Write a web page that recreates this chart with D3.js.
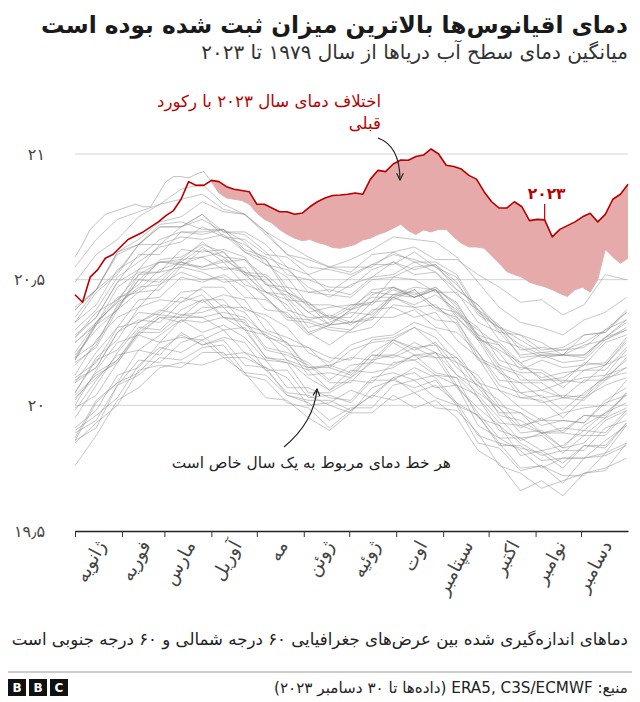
<!DOCTYPE html>
<html>
<head>
<meta charset="utf-8">
<script src="https://cdnjs.cloudflare.com/ajax/libs/d3/7.8.5/d3.min.js"></script>
<style>
  body { margin: 0; background: #fff; }
  text { font-family: "DejaVu Sans", sans-serif; }
</style>
</head>
<body>
<div id="chart"></div>
<script>

// ---- data ----
// day of year for the past years (every 14 days)
var pastDays = [0, 14, 28, 42, 56, 70, 84, 98, 112, 126, 140, 154, 168, 182, 196, 210, 224, 238, 252, 266, 280, 294, 308, 322, 336, 350, 364];

// sea surface temperature, 60S-60N, degC
var sst1979 = [19.86, 19.91, 20.08, 20.12, 20.19, 20.18, 20.23, 20.24, 20.13, 20.12, 20.04, 20.01, 19.94, 19.99, 19.99, 20.08, 20.10, 20.03, 20.00, 19.85, 19.83, 19.74, 19.76, 19.72, 19.72, 19.81, 19.85];
var sst1980 = [19.87, 20.02, 20.09, 20.22, 20.20, 20.29, 20.24, 20.27, 20.25, 20.14, 20.14, 20.03, 20.04, 20.01, 20.10, 20.10, 20.15, 20.11, 20.01, 19.96, 19.84, 19.84, 19.78, 19.79, 19.79, 19.81, 19.92];
var sst1981 = [19.90, 19.96, 20.03, 20.16, 20.23, 20.21, 20.26, 20.19, 20.19, 20.15, 20.04, 20.02, 20.02, 19.98, 20.04, 20.11, 20.05, 20.08, 20.01, 19.88, 19.85, 19.75, 19.76, 19.69, 19.79, 19.80, 19.84];
var sst1982 = [19.86, 20.01, 20.09, 20.13, 20.22, 20.28, 20.24, 20.26, 20.16, 20.15, 20.11, 20.00, 20.01, 20.06, 20.03, 20.11, 20.13, 20.07, 20.08, 19.97, 19.87, 19.87, 19.82, 19.84, 19.90, 19.89, 19.98];
var sst1983 = [20.09, 20.15, 20.29, 20.34, 20.33, 20.41, 20.44, 20.35, 20.33, 20.22, 20.20, 20.16, 20.09, 20.09, 20.18, 20.20, 20.18, 20.21, 20.08, 20.04, 19.95, 19.86, 19.89, 19.83, 19.85, 19.94, 19.98];
var sst1984 = [19.85, 19.93, 20.00, 20.14, 20.16, 20.15, 20.21, 20.21, 20.12, 20.10, 20.01, 19.99, 19.91, 19.98, 20.04, 20.02, 20.05, 19.99, 19.98, 19.89, 19.76, 19.73, 19.67, 19.70, 19.73, 19.74, 19.85];
var sst1985 = [19.76, 19.88, 20.02, 20.07, 20.15, 20.17, 20.16, 20.19, 20.13, 20.03, 20.02, 19.95, 19.90, 19.97, 19.97, 20.04, 19.99, 20.02, 19.95, 19.82, 19.77, 19.66, 19.70, 19.64, 19.73, 19.75, 19.79];
var sst1986 = [19.89, 19.94, 20.08, 20.18, 20.17, 20.25, 20.28, 20.20, 20.21, 20.14, 20.05, 20.04, 20.00, 19.97, 20.07, 20.10, 20.07, 20.10, 20.00, 19.96, 19.85, 19.83, 19.81, 19.75, 19.84, 19.84, 19.93];
var sst1987 = [20.05, 20.18, 20.22, 20.33, 20.38, 20.36, 20.37, 20.40, 20.37, 20.27, 20.25, 20.14, 20.16, 20.19, 20.18, 20.26, 20.23, 20.19, 20.19, 20.07, 19.97, 19.97, 19.92, 19.94, 19.93, 20.02, 20.07];
var sst1988 = [20.04, 20.12, 20.17, 20.29, 20.29, 20.36, 20.35, 20.30, 20.31, 20.19, 20.18, 20.11, 20.06, 20.14, 20.13, 20.15, 20.20, 20.19, 20.07, 19.99, 19.92, 19.80, 19.82, 19.77, 19.84, 19.83, 19.93];
var sst1989 = [19.91, 19.98, 20.12, 20.15, 20.25, 20.27, 20.26, 20.30, 20.21, 20.18, 20.07, 20.07, 20.03, 20.02, 20.11, 20.13, 20.10, 20.12, 20.08, 19.92, 19.87, 19.82, 19.75, 19.79, 19.79, 19.86, 19.92];
var sst1990 = [19.95, 20.08, 20.21, 20.31, 20.30, 20.38, 20.42, 20.35, 20.34, 20.23, 20.21, 20.17, 20.10, 20.16, 20.17, 20.25, 20.20, 20.21, 20.17, 20.03, 19.93, 19.92, 19.89, 19.89, 19.88, 19.95, 19.99];
var sst1991 = [20.02, 20.13, 20.18, 20.29, 20.35, 20.33, 20.39, 20.39, 20.30, 20.28, 20.23, 20.12, 20.13, 20.11, 20.20, 20.20, 20.25, 20.21, 20.12, 20.08, 19.99, 19.91, 19.95, 19.89, 19.96, 19.96, 20.05];
var sst1992 = [19.98, 20.10, 20.20, 20.22, 20.28, 20.34, 20.29, 20.32, 20.27, 20.18, 20.17, 20.05, 20.05, 20.10, 20.09, 20.17, 20.18, 20.12, 20.11, 19.95, 19.92, 19.85, 19.80, 19.82, 19.82, 19.91, 19.94];
var sst1993 = [19.99, 20.04, 20.17, 20.28, 20.25, 20.34, 20.33, 20.35, 20.30, 20.19, 20.17, 20.14, 20.06, 20.11, 20.17, 20.16, 20.20, 20.13, 20.11, 20.03, 19.90, 19.87, 19.88, 19.81, 19.88, 19.88, 19.97];
var sst1994 = [20.00, 20.14, 20.25, 20.28, 20.35, 20.35, 20.42, 20.42, 20.32, 20.29, 20.25, 20.15, 20.16, 20.13, 20.21, 20.26, 20.22, 20.25, 20.15, 20.08, 20.02, 19.92, 19.94, 19.94, 19.93, 20.01, 20.04];
var sst1995 = [20.10, 20.15, 20.29, 20.37, 20.36, 20.43, 20.41, 20.44, 20.42, 20.30, 20.27, 20.23, 20.15, 20.22, 20.25, 20.26, 20.31, 20.27, 20.17, 20.12, 20.00, 19.97, 19.89, 19.90, 19.96, 19.95, 20.05];
var sst1996 = [20.03, 20.11, 20.18, 20.30, 20.36, 20.35, 20.35, 20.37, 20.35, 20.28, 20.18, 20.15, 20.15, 20.12, 20.20, 20.19, 20.23, 20.24, 20.12, 20.05, 19.99, 19.89, 19.90, 19.83, 19.92, 19.97, 20.01];
var sst1997 = [20.12, 20.26, 20.35, 20.39, 20.48, 20.53, 20.50, 20.51, 20.43, 20.42, 20.36, 20.28, 20.32, 20.33, 20.35, 20.44, 20.43, 20.47, 20.40, 20.28, 20.25, 20.17, 20.20, 20.17, 20.18, 20.26, 20.31];
var sst1998 = [20.38, 20.46, 20.61, 20.64, 20.71, 20.71, 20.76, 20.67, 20.64, 20.58, 20.45, 20.40, 20.32, 20.38, 20.41, 20.42, 20.46, 20.39, 20.34, 20.19, 20.15, 20.05, 20.06, 20.03, 20.04, 20.12, 20.15];
var sst1999 = [20.09, 20.21, 20.31, 20.33, 20.37, 20.45, 20.46, 20.39, 20.39, 20.34, 20.24, 20.23, 20.19, 20.18, 20.26, 20.27, 20.31, 20.24, 20.19, 20.10, 19.96, 19.94, 19.89, 19.91, 19.90, 19.97, 20.04];
var sst2000 = [20.05, 20.19, 20.26, 20.39, 20.42, 20.41, 20.47, 20.47, 20.38, 20.36, 20.31, 20.21, 20.17, 20.24, 20.27, 20.28, 20.33, 20.30, 20.21, 20.09, 20.06, 19.99, 19.94, 19.97, 19.99, 20.00, 20.10];
var sst2001 = [20.17, 20.23, 20.38, 20.45, 20.46, 20.55, 20.53, 20.49, 20.50, 20.43, 20.34, 20.33, 20.30, 20.29, 20.31, 20.40, 20.39, 20.34, 20.33, 20.21, 20.10, 20.09, 20.03, 20.04, 20.03, 20.11, 20.18];
var sst2002 = [20.19, 20.25, 20.39, 20.50, 20.49, 20.58, 20.59, 20.54, 20.55, 20.45, 20.42, 20.31, 20.33, 20.37, 20.36, 20.43, 20.40, 20.44, 20.38, 20.26, 20.24, 20.16, 20.11, 20.13, 20.14, 20.16, 20.26];
var sst2003 = [20.27, 20.37, 20.42, 20.52, 20.57, 20.56, 20.59, 20.61, 20.52, 20.45, 20.44, 20.37, 20.32, 20.38, 20.43, 20.43, 20.46, 20.39, 20.37, 20.28, 20.16, 20.13, 20.13, 20.07, 20.14, 20.14, 20.23];
var sst2004 = [20.18, 20.33, 20.41, 20.46, 20.54, 20.57, 20.55, 20.58, 20.53, 20.49, 20.38, 20.35, 20.35, 20.32, 20.37, 20.44, 20.45, 20.38, 20.35, 20.27, 20.15, 20.12, 20.06, 20.09, 20.11, 20.12, 20.22];
var sst2005 = [20.25, 20.32, 20.47, 20.53, 20.53, 20.62, 20.61, 20.62, 20.59, 20.48, 20.45, 20.37, 20.39, 20.40, 20.40, 20.47, 20.43, 20.46, 20.41, 20.27, 20.21, 20.10, 20.10, 20.10, 20.09, 20.16, 20.20];
var sst2006 = [20.20, 20.30, 20.38, 20.52, 20.53, 20.55, 20.62, 20.59, 20.52, 20.51, 20.43, 20.34, 20.36, 20.33, 20.41, 20.46, 20.43, 20.46, 20.36, 20.30, 20.24, 20.14, 20.18, 20.15, 20.16, 20.25, 20.28];
var sst2007 = [20.21, 20.33, 20.43, 20.45, 20.51, 20.57, 20.54, 20.55, 20.53, 20.43, 20.35, 20.34, 20.31, 20.30, 20.38, 20.39, 20.35, 20.37, 20.26, 20.19, 20.06, 20.03, 20.02, 19.95, 20.03, 20.08, 20.11];
var sst2008 = [20.11, 20.17, 20.31, 20.42, 20.43, 20.51, 20.49, 20.52, 20.47, 20.38, 20.37, 20.29, 20.24, 20.30, 20.35, 20.35, 20.38, 20.31, 20.29, 20.21, 20.08, 20.05, 20.01, 20.03, 20.02, 20.10, 20.15];
var sst2009 = [20.19, 20.32, 20.38, 20.50, 20.57, 20.57, 20.63, 20.57, 20.58, 20.51, 20.42, 20.41, 20.35, 20.40, 20.41, 20.51, 20.50, 20.45, 20.45, 20.33, 20.29, 20.20, 20.21, 20.20, 20.19, 20.27, 20.34];
var sst2010 = [20.38, 20.46, 20.60, 20.64, 20.72, 20.73, 20.70, 20.70, 20.61, 20.56, 20.51, 20.40, 20.40, 20.38, 20.46, 20.47, 20.43, 20.46, 20.35, 20.26, 20.13, 20.09, 20.09, 20.03, 20.10, 20.10, 20.19];
var sst2011 = [20.16, 20.24, 20.40, 20.47, 20.48, 20.56, 20.55, 20.57, 20.48, 20.45, 20.40, 20.29, 20.32, 20.33, 20.34, 20.43, 20.39, 20.40, 20.32, 20.18, 20.14, 20.03, 20.04, 19.98, 20.05, 20.11, 20.13];
var sst2012 = [20.18, 20.32, 20.42, 20.48, 20.58, 20.59, 20.64, 20.61, 20.53, 20.52, 20.45, 20.41, 20.34, 20.39, 20.45, 20.44, 20.47, 20.46, 20.37, 20.31, 20.18, 20.15, 20.14, 20.09, 20.17, 20.16, 20.25];
var sst2013 = [20.25, 20.33, 20.41, 20.54, 20.57, 20.58, 20.65, 20.59, 20.58, 20.48, 20.47, 20.39, 20.35, 20.35, 20.44, 20.47, 20.44, 20.47, 20.39, 20.27, 20.22, 20.17, 20.10, 20.11, 20.16, 20.17, 20.27];
var sst2014 = [20.27, 20.35, 20.49, 20.54, 20.64, 20.67, 20.66, 20.68, 20.61, 20.58, 20.47, 20.45, 20.44, 20.43, 20.50, 20.51, 20.55, 20.56, 20.46, 20.40, 20.31, 20.28, 20.22, 20.23, 20.28, 20.29, 20.37];
var sst2015 = [20.30, 20.38, 20.51, 20.57, 20.63, 20.65, 20.71, 20.67, 20.66, 20.60, 20.59, 20.52, 20.55, 20.53, 20.60, 20.61, 20.63, 20.58, 20.58, 20.52, 20.47, 20.41, 20.42, 20.36, 20.40, 20.52, 20.50];
var sst2016 = [20.55, 20.66, 20.74, 20.77, 20.80, 20.86, 20.88, 20.80, 20.76, 20.68, 20.60, 20.55, 20.54, 20.52, 20.56, 20.60, 20.58, 20.55, 20.48, 20.38, 20.30, 20.24, 20.20, 20.20, 20.24, 20.26, 20.30];
var sst2017 = [20.33, 20.45, 20.52, 20.64, 20.71, 20.71, 20.76, 20.69, 20.69, 20.64, 20.55, 20.52, 20.45, 20.51, 20.56, 20.56, 20.61, 20.55, 20.51, 20.37, 20.31, 20.19, 20.20, 20.20, 20.20, 20.27, 20.30];
var sst2018 = [20.28, 20.35, 20.49, 20.60, 20.60, 20.69, 20.69, 20.70, 20.62, 20.59, 20.55, 20.45, 20.46, 20.44, 20.51, 20.57, 20.52, 20.53, 20.46, 20.40, 20.29, 20.28, 20.25, 20.20, 20.28, 20.29, 20.38];
var sst2019 = [20.39, 20.46, 20.61, 20.66, 20.73, 20.75, 20.81, 20.77, 20.76, 20.69, 20.60, 20.58, 20.55, 20.58, 20.62, 20.67, 20.66, 20.65, 20.59, 20.49, 20.39, 20.33, 20.31, 20.28, 20.34, 20.37, 20.43];
var sst2020 = [20.49, 20.60, 20.66, 20.75, 20.80, 20.82, 20.84, 20.78, 20.76, 20.69, 20.64, 20.59, 20.55, 20.55, 20.55, 20.61, 20.57, 20.57, 20.52, 20.38, 20.32, 20.22, 20.23, 20.22, 20.23, 20.30, 20.34];
var sst2021 = [20.33, 20.40, 20.54, 20.59, 20.66, 20.69, 20.68, 20.70, 20.65, 20.56, 20.54, 20.47, 20.43, 20.48, 20.51, 20.52, 20.57, 20.53, 20.44, 20.38, 20.26, 20.23, 20.19, 20.20, 20.20, 20.27, 20.33];
var sst2022 = [20.35, 20.46, 20.53, 20.64, 20.64, 20.71, 20.74, 20.69, 20.68, 20.61, 20.52, 20.50, 20.47, 20.47, 20.54, 20.57, 20.54, 20.56, 20.49, 20.36, 20.31, 20.26, 20.21, 20.22, 20.25, 20.30, 20.37];

var pastYears = [sst1979, sst1980, sst1981, sst1982, sst1983, sst1984, sst1985, sst1986, sst1987, sst1988,
  sst1989, sst1990, sst1991, sst1992, sst1993, sst1994, sst1995, sst1996, sst1997, sst1998,
  sst1999, sst2000, sst2001, sst2002, sst2003, sst2004, sst2005, sst2006, sst2007, sst2008,
  sst2009, sst2010, sst2011, sst2012, sst2013, sst2014, sst2015, sst2016, sst2017, sst2018,
  sst2019, sst2020, sst2021, sst2022];

// day of year for 2023 and the previous record (every 5 days)
var recentDays = [0, 5, 10, 15, 20, 25, 30, 35, 40, 45, 50, 55, 60, 65, 70, 75, 80, 85, 90, 95,
  100, 105, 110, 115, 120, 125, 130, 135, 140, 145, 150, 155, 160, 165, 170, 175, 180, 185, 190, 195,
  200, 205, 210, 215, 220, 225, 230, 235, 240, 245, 250, 255, 260, 265, 270, 275, 280, 285, 290, 295,
  300, 305, 310, 315, 320, 325, 330, 335, 340, 345, 350, 355, 360, 365];

var sst2023 = [20.44, 20.41, 20.51, 20.54, 20.585, 20.60, 20.63, 20.66, 20.675, 20.69,
  20.71, 20.73, 20.755, 20.775, 20.82, 20.89, 20.875, 20.875, 20.895, 20.89,
  20.87, 20.86, 20.855, 20.85, 20.80, 20.80, 20.785, 20.77, 20.77, 20.76,
  20.765, 20.79, 20.81, 20.825, 20.835, 20.837, 20.84, 20.845, 20.84, 20.90,
  20.935, 20.93, 20.96, 20.976, 20.975, 20.99, 20.996, 21.02, 21.0, 20.955,
  20.95, 20.94, 20.915, 20.90, 20.85, 20.81, 20.785, 20.785, 20.81, 20.79,
  20.735, 20.74, 20.738, 20.67, 20.70, 20.715, 20.73, 20.75, 20.764, 20.73,
  20.76, 20.82, 20.84, 20.88];

// highest value of 1979-2022 for each day
var previousRecord = [20.59, 20.64, 20.70, 20.73, 20.76, 20.77, 20.78, 20.79, 20.80, 20.79,
  20.79, 20.84, 20.89, 20.91, 20.91, 20.905, 20.92, 20.93, 20.89, 20.845,
  20.825, 20.82, 20.815, 20.80, 20.765, 20.74, 20.725, 20.70, 20.68, 20.665,
  20.655, 20.66, 20.648, 20.64, 20.628, 20.625, 20.632, 20.64, 20.658, 20.665,
  20.68, 20.69, 20.705, 20.72, 20.695, 20.68, 20.698, 20.69, 20.70, 20.70,
  20.67, 20.645, 20.63, 20.63, 20.625, 20.595, 20.565, 20.532, 20.52, 20.51,
  20.49, 20.48, 20.472, 20.46, 20.445, 20.433, 20.46, 20.47, 20.45, 20.50,
  20.62, 20.59, 20.565, 20.585];

var monthStarts = [0, 31, 59, 90, 120, 151, 181, 212, 243, 273, 304, 334];
var monthNames = ["ژانویه", "فوریه", "مارس", "آوریل", "مه", "ژوئن", "ژوئیه", "اوت", "سپتامبر", "اکتبر", "نوامبر", "دسامبر"];

var yTicks = [19.5, 20, 20.5, 21];
var yTickLabels = ["۱۹٫۵", "۲۰", "۲۰٫۵", "۲۱"];

// ---- svg ----
var svgWidth = 640;
var svgHeight = 702;

var margin = { top: 154, right: 12, bottom: 171, left: 75 };

var chartWidth = svgWidth - margin.left - margin.right;
var chartHeight = svgHeight - margin.top - margin.bottom;

var red = "#b80000";

var svg = d3.select("#chart").append("svg")
  .attr("width", svgWidth)
  .attr("height", svgHeight);

var defs = svg.append("defs");
defs.append("marker")
  .attr("id", "arrowHead")
  .attr("viewBox", "0 0 10 10")
  .attr("refX", 9)
  .attr("refY", 5)
  .attr("markerWidth", 7)
  .attr("markerHeight", 7)
  .attr("orient", "auto")
  .append("path")
  .attr("d", "M1,1 L9,5 L1,9")
  .attr("fill", "none")
  .attr("stroke", "#222")
  .attr("stroke-width", 1.4);

// title block
svg.append("text")
  .attr("x", 628).attr("y", 33)
  .attr("direction", "rtl").attr("text-anchor", "start")
  .attr("font-size", "23.3px").attr("font-weight", "bold")
  .attr("fill", "#1a1a1a")
  .text("دمای اقیانوس‌ها بالاترین میزان ثبت شده بوده است");

svg.append("text")
  .attr("x", 628).attr("y", 59)
  .attr("direction", "rtl").attr("text-anchor", "start")
  .attr("font-size", "20px")
  .attr("fill", "#333")
  .text("میانگین دمای سطح آب دریاها از سال ۱۹۷۹ تا ۲۰۲۳");

var chartGroup = svg.append("g")
  .attr("transform", `translate(${margin.left}, ${margin.top})`);

// scales
var xScale = d3.scaleLinear().domain([0, 365]).range([0, chartWidth]);
var yScale = d3.scaleLinear().domain([19.5, 21]).range([chartHeight, 0]);

// gridlines
chartGroup.selectAll(".grid")
  .data(yTicks.filter(d => d > 19.5))
  .enter()
  .append("line")
  .attr("x1", 0).attr("x2", chartWidth)
  .attr("y1", d => yScale(d)).attr("y2", d => yScale(d))
  .attr("stroke", "#d4d4d4")
  .attr("stroke-width", 1);

// y labels
svg.selectAll(".yLabel")
  .data(yTicks)
  .enter()
  .append("text")
  .attr("x", 45)
  .attr("y", d => margin.top + yScale(d))
  .attr("dy", "0.35em")
  .attr("text-anchor", "end")
  .attr("font-size", "16px")
  .attr("fill", "#444")
  .text((d, i) => yTickLabels[i]);

// one grey line per past year
var pastLine = d3.line()
  .x((d, i) => xScale(pastDays[i]))
  .y(d => yScale(d));

chartGroup.selectAll(".pastYear")
  .data(pastYears)
  .enter()
  .append("path")
  .attr("d", pastLine)
  .attr("fill", "none")
  .attr("stroke", "#8a8a8a")
  .attr("stroke-opacity", 0.55)
  .attr("stroke-width", 0.9);

var recentLine = d3.line()
  .x((d, i) => xScale(recentDays[i]))
  .y(d => yScale(d));

// the upper edge of the grey bundle
chartGroup.append("path")
  .attr("d", recentLine(previousRecord))
  .attr("fill", "none")
  .attr("stroke", "#8a8a8a")
  .attr("stroke-opacity", 0.6)
  .attr("stroke-width", 0.9);

// gap between 2023 and the previous record
var gapArea = d3.area()
  .x((d, i) => xScale(recentDays[i]))
  .y0((d, i) => yScale(Math.min(previousRecord[i], d)))
  .y1(d => yScale(d));

chartGroup.append("path")
  .attr("d", gapArea(sst2023))
  .attr("fill", "#e7aaaa");

// 2023
chartGroup.append("path")
  .attr("d", recentLine(sst2023))
  .attr("fill", "none")
  .attr("stroke", red)
  .attr("stroke-width", 1.6)
  .attr("stroke-linejoin", "round");

// x axis
var xAxis = d3.axisBottom(xScale)
  .tickValues(monthStarts)
  .tickSize(6)
  .tickSizeOuter(0)
  .tickFormat("");

var xAxisGroup = chartGroup.append("g")
  .attr("transform", `translate(0, ${chartHeight})`)
  .call(xAxis);

xAxisGroup.select(".domain").attr("stroke", "#222").attr("stroke-width", 1.6);
xAxisGroup.selectAll(".tick line").attr("stroke", "#333");

chartGroup.selectAll(".monthLabel")
  .data(monthNames)
  .enter()
  .append("text")
  .attr("transform", function(d, i) {
    var end = i < 11 ? monthStarts[i + 1] : 365;
    var mid = (monthStarts[i] + end) / 2;
    return `translate(${xScale(mid) + 8}, ${chartHeight + 14}) rotate(-62)`;
  })
  .attr("text-anchor", "end")
  .attr("font-size", "18.5px")
  .attr("fill", "#444")
  .text(d => d);

// label for 2023
var labelIndex = recentDays.indexOf(310);
chartGroup.append("line")
  .attr("x1", xScale(310)).attr("x2", xScale(310))
  .attr("y1", 50).attr("y2", yScale(sst2023[labelIndex]))
  .attr("stroke", red)
  .attr("stroke-width", 1.2);

chartGroup.append("text")
  .attr("x", xScale(310) + 2).attr("y", 45)
  .attr("text-anchor", "middle")
  .attr("font-size", "15.5px").attr("font-weight", "bold")
  .attr("fill", red)
  .text("۲۰۲۳");

// annotations
svg.append("text")
  .attr("x", 381).attr("y", 107)
  .attr("direction", "rtl").attr("text-anchor", "start")
  .attr("font-size", "16.6px")
  .attr("fill", red)
  .text("اختلاف دمای سال ۲۰۲۳ با رکورد");

svg.append("text")
  .attr("x", 381).attr("y", 129)
  .attr("direction", "rtl").attr("text-anchor", "start")
  .attr("font-size", "16.6px")
  .attr("fill", red)
  .text("قبلی");

svg.append("path")
  .attr("d", "M378,138 Q400,146 400,180")
  .attr("fill", "none")
  .attr("stroke", "#222")
  .attr("stroke-width", 1.2)
  .attr("marker-end", "url(#arrowHead)");

svg.append("text")
  .attr("x", 451).attr("y", 468)
  .attr("direction", "rtl").attr("text-anchor", "start")
  .attr("font-size", "15.4px")
  .attr("fill", "#222")
  .text("هر خط دمای مربوط به یک سال خاص است");

svg.append("path")
  .attr("d", "M284,447 Q314,422 317,389")
  .attr("fill", "none")
  .attr("stroke", "#222")
  .attr("stroke-width", 1.2)
  .attr("marker-end", "url(#arrowHead)");

// footer
svg.append("text")
  .attr("x", 628).attr("y", 645)
  .attr("direction", "rtl").attr("text-anchor", "start")
  .attr("font-size", "16.6px")
  .attr("fill", "#222")
  .text("دماهای اندازه‌گیری شده بین عرض‌های جغرافیایی ۶۰ درجه شمالی و ۶۰ درجه جنوبی است");

svg.append("line")
  .attr("x1", 8).attr("x2", 632)
  .attr("y1", 672).attr("y2", 672)
  .attr("stroke", "#999")
  .attr("stroke-width", 1);

svg.append("text")
  .attr("x", 628).attr("y", 693)
  .attr("direction", "rtl").attr("text-anchor", "start")
  .attr("font-size", "15.2px")
  .attr("fill", "#222")
  .text("منبع: ERA5, C3S/ECMWF (داده‌ها تا ۳۰ دسامبر ۲۰۲۳)");

// BBC blocks
var logo = svg.append("g").attr("transform", "translate(8, 679)");
["B", "B", "C"].forEach(function(letter, i) {
  logo.append("rect")
    .attr("x", i * 21).attr("y", 0)
    .attr("width", 18).attr("height", 17)
    .attr("fill", "#111");
  logo.append("text")
    .attr("x", i * 21 + 9).attr("y", 13)
    .attr("text-anchor", "middle")
    .attr("font-size", "12px").attr("font-weight", "bold")
    .attr("fill", "#fff")
    .text(letter);
});

</script>
</body>
</html>
